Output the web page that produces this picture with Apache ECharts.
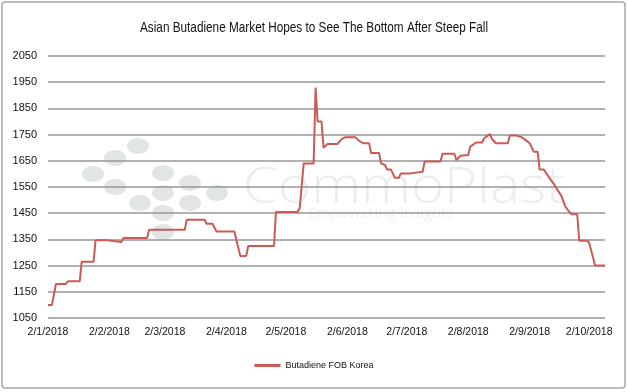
<!DOCTYPE html>
<html>
<head>
<meta charset="utf-8">
<script src="https://cdn.jsdelivr.net/npm/echarts@6/dist/echarts.min.js"></script>
<style>html,body{margin:0;padding:0;background:#fff}#c{width:628px;height:392px}</style>
</head>
<body>
<div id="c"></div>
<script>
var titleText = 'Asian Butadiene Market Hopes to See The Bottom After Steep Fall';
var seriesName = 'Butadiene FOB Korea';
var dates = [
 '2018-01-02','2018-01-04','2018-01-06','2018-01-11','2018-01-12','2018-01-18','2018-01-19','2018-01-25','2018-01-26','2018-02-01',
 '2018-02-02','2018-02-08','2018-02-09','2018-02-21','2018-02-22','2018-03-12','2018-03-13','2018-03-22','2018-03-23','2018-03-26',
 '2018-03-28','2018-04-06','2018-04-09','2018-04-12','2018-04-13','2018-04-26','2018-04-27','2018-05-08','2018-05-09','2018-05-10',
 '2018-05-11','2018-05-16','2018-05-17','2018-05-18','2018-05-20','2018-05-21','2018-05-23','2018-05-28','2018-05-30','2018-06-01',
 '2018-06-06','2018-06-08','2018-06-10','2018-06-13','2018-06-14','2018-06-18','2018-06-19','2018-06-21','2018-06-22','2018-06-24',
 '2018-06-26','2018-06-28','2018-06-29','2018-07-04','2018-07-05','2018-07-10','2018-07-11','2018-07-19','2018-07-20','2018-07-26',
 '2018-07-27','2018-07-29','2018-08-02','2018-08-03','2018-08-06','2018-08-09','2018-08-10','2018-08-13','2018-08-14','2018-08-16',
 '2018-08-22','2018-08-23','2018-08-26','2018-08-27','2018-08-29','2018-08-31','2018-09-02','2018-09-04','2018-09-06','2018-09-07',
 '2018-09-09','2018-09-11','2018-09-13','2018-09-14','2018-09-16','2018-09-18','2018-09-20','2018-09-21','2018-09-23','2018-09-26',
 '2018-09-27','2018-10-01','2018-10-02','2018-10-05','2018-10-10'
];
var prices = [
 1100,1100,1180,1180,1190,1190,1265,1265,1347,1347,
 1340,1340,1355,1355,1387,1387,1425,1425,1410,1410,
 1380,1380,1287,1287,1325,1325,1455,1455,1470,1470,
 1640,1640,1930,1800,1800,1700,1714,1714,1732,1740,
 1740,1726,1717,1717,1680,1680,1640,1634,1617,1617,
 1585,1585,1602,1602,1608,1608,1647,1647,1677,1677,
 1653,1669,1672,1704,1720,1720,1736,1752,1733,1717,
 1717,1747,1747,1740,1740,1729,1717,1685,1685,1617,
 1617,1596,1573,1564,1539,1516,1475,1465,1446,1446,
 1345,1345,1337,1250,1250
];
var tickDates = ['2018-01-02','2018-02-02','2018-03-02','2018-04-02','2018-05-02','2018-06-02','2018-07-02','2018-08-02','2018-09-02','2018-10-02'];
var axisStart = '2018-01-02';
var axisEnd = '2018-10-10';
var yMin = 1050, yMax = 2050, yStep = 100;

function toTime(s){ var p = s.split('-'); return new Date(+p[0], +p[1]-1, +p[2]).getTime(); }
var seriesData = dates.map(function(d,i){ return [toTime(d), prices[i]]; });

// condensed title: measure and squeeze horizontally
var titleFont = '15px "Liberation Sans", sans-serif';
var cv = document.createElement('canvas').getContext('2d');
cv.font = titleFont;
var titleScale = 348 / cv.measureText(titleText).width;
var wmFont = '300 50px "Open Sans", sans-serif';
cv.font = wmFont;
var wmScale = 322 / cv.measureText('CommoPlast').width;

var chart = echarts.init(document.getElementById('c'), null, {renderer:'canvas'});
var wm = '#e2e5e5';
var dots = [[138,146],[115,158],[93,174],[163,173],[190,183],[115,187],[163,193],[217,193],[140,203],[190,203],[163,213],[163,232]];
var graphics = dots.map(function(p){
  return {type:'ellipse', shape:{cx:p[0], cy:p[1], rx:11, ry:8}, style:{fill:wm}, z:-10, silent:true};
});
graphics.push({type:'text', x:243, y:189, scaleX:wmScale, originX:0, originY:0,
  style:{text:'CommoPlast', font:wmFont, fill:'#eceeee', align:'left', verticalAlign:'middle'}, z:-10, silent:true});
graphics.push({type:'text', x:308, y:214,
  style:{text:'Empowering Insights', font:'15px "Open Sans", sans-serif', fill:'#eef0f0', align:'left', verticalAlign:'middle'}, z:-10, silent:true});
graphics.push({type:'rect', shape:{x:2, y:2, width:623, height:386, r:3}, style:{fill:'none', stroke:'#a6a6a6', lineWidth:1.5}, z:100, silent:true});
graphics.push({type:'text', x:314, y:28, scaleX:titleScale, originX:0, originY:0,
  style:{text:titleText, font:titleFont, fill:'#111', align:'center', verticalAlign:'middle'}, z:50, silent:true});

chart.setOption({
  animation:false,
  backgroundColor:'#ffffff',
  graphic: graphics,
  legend:{
    bottom:17, left:'center', itemWidth:26, itemHeight:3, itemGap:2,
    icon:'rect',
    textStyle:{fontFamily:'"Liberation Sans Narrow","Liberation Sans",sans-serif', fontSize:9, color:'#111'},
    data:[seriesName]
  },
  grid:{left:48, right:23, top:56, bottom:74, containLabel:false},
  xAxis:{
    type:'value', min:toTime(axisStart), max:toTime(axisEnd), scale:true,
    axisLine:{show:false}, axisTick:{show:false}, splitLine:{show:false},
    axisLabel:{
      customValues: tickDates.map(toTime),
      formatter:function(v){ var d=new Date(v); return d.getDate()+'/'+(d.getMonth()+1)+'/'+d.getFullYear(); },
      fontFamily:'"Liberation Sans",sans-serif', fontSize:10.5, color:'#111', margin:9
    }
  },
  yAxis:{
    type:'value', min:yMin, max:yMax, interval:yStep,
    axisLine:{show:false}, axisTick:{show:false},
    splitLine:{lineStyle:{color:'#979797', width:1.6}},
    axisLabel:{formatter:function(v){return String(v);}, fontFamily:'"Liberation Sans",sans-serif', fontSize:11, color:'#111', margin:11}
  },
  series:[{
    name:seriesName, type:'line', data:seriesData, showSymbol:false, symbol:'none',
    lineStyle:{color:'#cc5a54', width:2}, itemStyle:{color:'#cc5a54'}
  }]
});
</script>
</body>
</html>
